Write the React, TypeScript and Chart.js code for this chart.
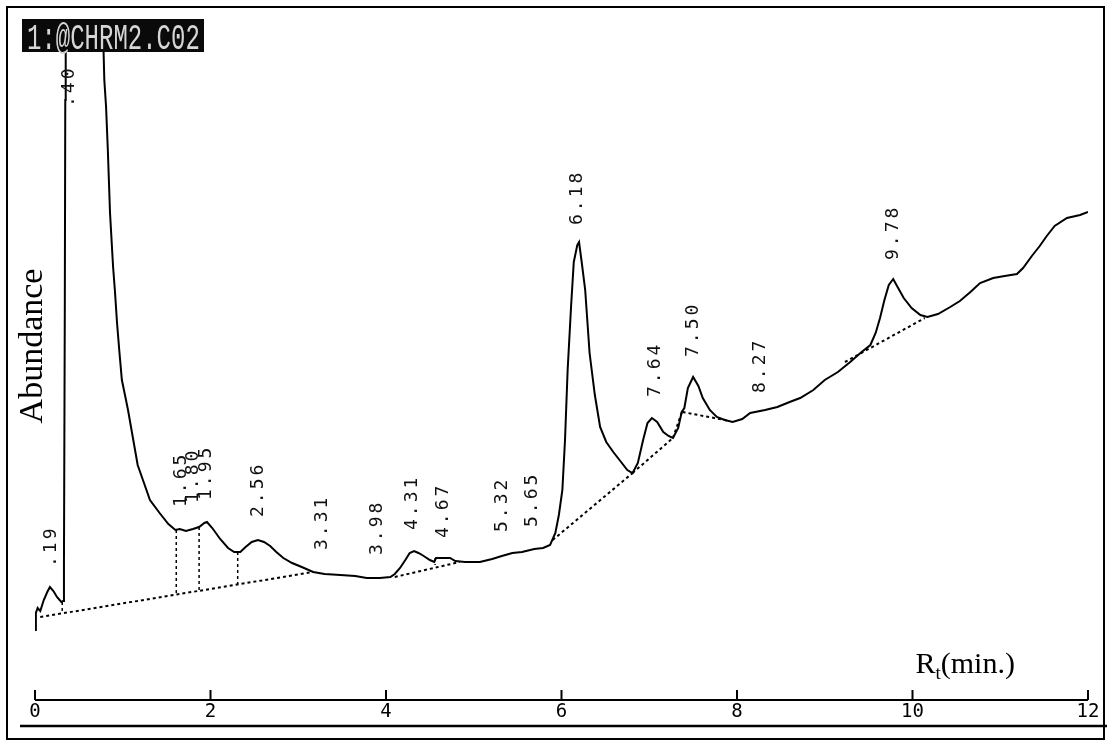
import { useEffect, useRef } from "react";
import { Chart, registerables } from "chart.js";

Chart.register(...registerables);

// ---- Chromatogram trace (retention time in min, abundance in arbitrary units) ----
const retentionTimes = [
  0.0, 0.01, 0.03, 0.06, 0.1, 0.14, 0.17, 0.21, 0.25, 0.3, 0.32, 0.33, 0.34, 0.345, 0.35,
  0.76, 0.79, 0.81, 0.83, 0.855, 0.89, 0.91, 0.935, 0.96, 0.99, 1.03, 1.06, 1.12, 1.17, 1.23,
  1.31, 1.42, 1.52, 1.6, 1.65, 1.72, 1.8, 1.87, 1.93, 1.96, 2.02, 2.11, 2.2, 2.27, 2.34,
  2.4, 2.47, 2.54, 2.61, 2.68, 2.75, 2.83, 2.93, 3.04, 3.17, 3.3, 3.48, 3.65, 3.78, 3.93,
  4.05, 4.1, 4.16, 4.22, 4.27, 4.32, 4.37, 4.43, 4.5, 4.55, 4.57, 4.73, 4.79, 4.9, 5.07,
  5.21, 5.32, 5.44, 5.55, 5.69, 5.79, 5.87, 5.93, 5.97, 6.01, 6.04, 6.07, 6.11, 6.14, 6.18,
  6.2, 6.23, 6.27, 6.32, 6.38, 6.44, 6.51, 6.59, 6.67, 6.75, 6.81, 6.87, 6.93, 6.98, 7.03,
  7.09, 7.16, 7.22, 7.27, 7.33, 7.37, 7.4, 7.44, 7.5, 7.56, 7.61, 7.69, 7.77, 7.86, 7.95,
  8.06, 8.15, 8.32, 8.46, 8.6, 8.72, 8.87, 9.0, 9.15, 9.29, 9.42, 9.52, 9.58, 9.63, 9.68,
  9.73, 9.78, 9.83, 9.9, 9.99, 10.09, 10.17, 10.29, 10.43, 10.54, 10.66, 10.77, 10.92, 11.05, 11.19,
  11.26, 11.36, 11.45, 11.53, 11.62, 11.76, 11.91, 12.0,
];
const abundance = [
  70, 87, 92, 89, 100, 108, 113, 109, 103, 98, 99, 140, 400, 600, 720,
  720, 620, 593, 550, 487, 433, 410, 377, 350, 320, 303, 290, 260, 235, 220,
  200, 187, 176, 170, 171, 169, 171, 173, 177, 178, 172, 161, 152, 148, 148,
  153, 158, 160, 158, 154, 148, 142, 137, 133, 128, 126, 125, 124, 122, 122,
  123, 126, 132, 140, 147, 149, 147, 144, 140, 138, 142, 142, 139, 138, 138,
  141, 144, 147, 148, 151, 152, 155, 167, 185, 210, 260, 330, 395, 438, 455,
  458, 438, 410, 347, 305, 273, 258, 248, 239, 230, 227, 237, 260, 277, 282,
  278, 268, 264, 262, 272, 288, 292, 312, 323, 314, 302, 290, 283, 280, 278,
  281, 287, 290, 293, 298, 302, 310, 320, 328, 338, 348, 355, 367, 382, 400,
  415, 421, 413, 402, 392, 385, 383, 386, 393, 399, 408, 417, 422, 424, 426,
  432, 444, 454, 464, 474, 482, 485, 488,
];

// ---- Integration baselines (dotted) ----
const baselineStartTimes = [0.06, 4.1, 5.9, 6.81, 7.27, 7.38, 9.23];
const baselineStartLevels = [83, 123, 160, 227, 262, 288, 338];
const baselineEndTimes = [3.17, 4.84, 6.81, 7.27, 7.38, 7.92, 10.14];
const baselineEndLevels = [128, 138, 227, 262, 290, 279, 382];

// ---- Peak split drop lines (dotted) ----
const dropTimes = [0.31, 1.61, 1.87, 2.31, 4.56];
const dropTopLevels = [98, 170, 173, 148, 142];
const dropBottomLevels = [88, 106, 110, 116, 135];

// ---- Peak retention-time labels ----
const peakLabels = [
  ".19", ".40", "1.65", "1.80", "1.95", "2.56", "3.31", "3.98", "4.31", "4.67",
  "5.32", "5.65", "6.18", "7.64", "7.50", "8.27", "9.78",
];
const peakLabelTimes = [
  0.19, 0.39, 1.67, 1.8, 1.95, 2.55, 3.28, 3.9, 4.3, 4.65,
  5.32, 5.67, 6.18, 7.07, 7.5, 8.27, 9.78,
];
const peakLabelLevels = [
  133, 593, 193, 197, 200, 183, 150, 145, 170, 162,
  168, 173, 475, 303, 343, 307, 440,
];

// ---- Axis ----
const xTicks = [0, 2, 4, 6, 8, 10, 12];
const xMin = 0;
const xMax = 12;
const yMax = 653;
const fileTag = "1:@CHRM2.C02";
const yTitle = "Abundance";
const xTitleMain = "R";
const xTitleSub = "t";
const xTitleRest = "(min.)";

const overlayPlugin = {
  id: "chromOverlay",
  afterDatasetsDraw(chart: any) {
    const ctx: CanvasRenderingContext2D = chart.ctx;
    const xs = chart.scales.x;
    const ys = chart.scales.y;
    const area = chart.chartArea;
    ctx.save();

    // peak labels, rotated
    ctx.fillStyle = "#111";
    ctx.font = "18px 'DejaVu Sans Mono'";
    (ctx as any).letterSpacing = "3px";
    ctx.textAlign = "left";
    ctx.textBaseline = "middle";
    for (let i = 0; i < peakLabels.length; i++) {
      const px = xs.getPixelForValue(peakLabelTimes[i]);
      const py = ys.getPixelForValue(peakLabelLevels[i]);
      ctx.save();
      ctx.translate(px, py);
      ctx.rotate(-Math.PI / 2);
      ctx.fillText(peakLabels[i], 0, 0);
      ctx.restore();
    }
    (ctx as any).letterSpacing = "0px";

    // x axis line and upward ticks
    const yb = area.bottom;
    ctx.strokeStyle = "#000";
    ctx.lineWidth = 2;
    ctx.beginPath();
    ctx.moveTo(xs.getPixelForValue(xMin), yb);
    ctx.lineTo(xs.getPixelForValue(xMax), yb);
    ctx.stroke();
    ctx.beginPath();
    for (const t of xTicks) {
      const px = xs.getPixelForValue(t);
      ctx.moveTo(px, yb);
      ctx.lineTo(px, yb - 10);
    }
    ctx.stroke();

    // tick labels
    ctx.fillStyle = "#000";
    ctx.font = "19px 'DejaVu Sans Mono'";
    ctx.textAlign = "center";
    ctx.textBaseline = "alphabetic";
    for (const t of xTicks) {
      ctx.fillText(String(t), xs.getPixelForValue(t), yb + 17);
    }

    // lower rule
    ctx.lineWidth = 2.5;
    ctx.beginPath();
    ctx.moveTo(20, yb + 26);
    ctx.lineTo(1107, yb + 26);
    ctx.stroke();

    // x title R_t(min.)
    const tx = xs.getPixelForValue(10) + 3;
    const tyBase = yb - 27;
    ctx.textAlign = "left";
    ctx.font = "30px 'Liberation Serif'";
    ctx.fillText(xTitleMain, tx, tyBase);
    let w = ctx.measureText(xTitleMain).width;
    ctx.font = "19px 'Liberation Serif'";
    ctx.fillText(xTitleSub, tx + w, tyBase + 6);
    w += ctx.measureText(xTitleSub).width;
    ctx.font = "30px 'Liberation Serif'";
    ctx.fillText(xTitleRest, tx + w, tyBase);

    // y title
    ctx.save();
    ctx.translate(42, 346);
    ctx.rotate(-Math.PI / 2);
    ctx.font = "34px 'Liberation Serif'";
    ctx.textAlign = "center";
    ctx.textBaseline = "alphabetic";
    ctx.fillText(yTitle, 0, 0);
    ctx.restore();

    // file tag box
    ctx.fillStyle = "#0a0a0a";
    ctx.fillRect(22, 19, 182, 33);
    ctx.save();
    ctx.fillStyle = "#d6d6d6";
    ctx.font = "24px 'Liberation Mono'";
    ctx.textAlign = "left";
    ctx.textBaseline = "alphabetic";
    ctx.translate(27, 49);
    ctx.scale(1, 1.55);
    ctx.fillText(fileTag, 0, 0);
    ctx.restore();

    // outer frame
    ctx.strokeStyle = "#000";
    ctx.lineWidth = 2;
    ctx.strokeRect(7, 7, 1097, 732);

    ctx.restore();
  },
};

export default function App() {
  const canvasRef = useRef<HTMLCanvasElement | null>(null);

  useEffect(() => {
    if (!canvasRef.current) return;
    const trace = retentionTimes.map((t, i) => ({ x: t, y: abundance[i] }));
    const baselinePts: any[] = [];
    baselineStartTimes.forEach((t, i) => {
      baselinePts.push({ x: t, y: baselineStartLevels[i] });
      baselinePts.push({ x: baselineEndTimes[i], y: baselineEndLevels[i] });
      baselinePts.push({ x: baselineEndTimes[i], y: null });
    });
    const dropPts: any[] = [];
    dropTimes.forEach((t, i) => {
      dropPts.push({ x: t, y: dropTopLevels[i] });
      dropPts.push({ x: t, y: dropBottomLevels[i] });
      dropPts.push({ x: t, y: null });
    });

    const chart = new Chart(canvasRef.current, {
      type: "line",
      data: {
        datasets: [
          {
            label: "TIC",
            data: trace,
            borderColor: "#000",
            borderWidth: 2,
            pointRadius: 0,
            tension: 0,
            fill: false,
          },
          {
            label: "baseline",
            data: baselinePts,
            borderColor: "#000",
            borderWidth: 2,
            borderDash: [3, 3],
            pointRadius: 0,
            spanGaps: false,
            tension: 0,
            fill: false,
          },
          {
            label: "drops",
            data: dropPts,
            borderColor: "#000",
            borderWidth: 1.5,
            borderDash: [3, 3],
            pointRadius: 0,
            spanGaps: false,
            tension: 0,
            fill: false,
          },
        ],
      },
      options: {
        animation: false,
        responsive: true,
        maintainAspectRatio: false,
        parsing: true,
        layout: { padding: { left: 35, right: 22, top: 47, bottom: 40 } },
        plugins: { legend: { display: false }, tooltip: { enabled: false } },
        scales: {
          x: { type: "linear", min: xMin, max: xMax, display: false },
          y: { type: "linear", min: 0, max: yMax, display: false },
        },
      },
      plugins: [overlayPlugin],
    });
    return () => chart.destroy();
  }, []);

  return (
    <div style={{ position: "fixed", left: 0, top: 0, width: 1110, height: 740, background: "#fff" }}>
      <canvas ref={canvasRef} />
    </div>
  );
}
